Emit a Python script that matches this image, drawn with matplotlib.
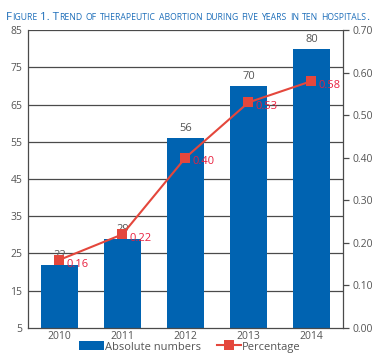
import matplotlib
matplotlib.use("Agg")
import matplotlib.pyplot as plt
import numpy as np

plt.rcParams['font.family'] = ['Open Sans', 'DejaVu Sans']

years = ["2010", "2011", "2012", "2013", "2014"]
absolute = [22, 29, 56, 70, 80]
percentage = [0.16, 0.22, 0.40, 0.53, 0.58]
left_ticks = [5, 15, 25, 35, 45, 55, 65, 75, 85]
right_ticks = [0.0, 0.1, 0.2, 0.3, 0.4, 0.5, 0.6, 0.7]

bar_color = '#0063b1'
line_color = '#e4473c'
label_red = '#e8203f'
text_gray = '#555555'
title_blue = '#1f6fba'

fig = plt.figure(figsize=(3.88, 3.62), dpi=100)
ax = fig.add_axes([0.072, 0.094, 0.812, 0.823])

x = np.arange(len(years))
bars = ax.bar(x, absolute, width=0.6, bottom=0, color=bar_color, zorder=2,
              label="Absolute numbers")
ax.set_ylim(5, 85)
ax.set_xlim(-0.5, len(years) - 0.5)
ax.set_yticks(left_ticks)
ax.set_xticks(x)
ax.set_xticklabels(years)
for y in left_ticks[1:]:
    ax.axhline(y, color='#4a4a4a', lw=0.9, zorder=1)
ax.tick_params(axis='y', length=0, labelsize=7.5, labelcolor=text_gray, pad=4)
ax.tick_params(axis='x', length=0, labelsize=7.5, labelcolor=text_gray, pad=2)
for s in ['top', 'right']:
    ax.spines[s].set_visible(False)
for s in ['left', 'bottom']:
    ax.spines[s].set_color('#4a4a4a')
    ax.spines[s].set_linewidth(0.9)

for xi, v in zip(x, absolute):
    ax.text(xi, v + 1.0, str(v), ha='center', va='bottom', fontsize=8,
            color=text_gray, zorder=3)

ax2 = ax.twinx()
ax2.set_ylim(0, 0.70)
ax2.set_yticks(right_ticks)
ax2.set_yticklabels(["%.2f" % t for t in right_ticks])
ax2.tick_params(axis='y', length=4, width=0.9, color='#4a4a4a', labelsize=7.5,
                labelcolor=text_gray, pad=3)
for s in ['top', 'left', 'bottom']:
    ax2.spines[s].set_visible(False)
ax2.spines['right'].set_color('#4a4a4a')
ax2.spines['right'].set_linewidth(0.9)
line, = ax2.plot(x, percentage, color=line_color, lw=1.5, marker='s',
                 markersize=6.5, markeredgewidth=0, label="Percentage", zorder=4)
for xi, p in zip(x, percentage):
    ax2.annotate("%.2f" % p, (xi, p), xytext=(5, -3), textcoords='offset points',
                 ha='left', va='center', fontsize=8, color=label_red)

fig.legend([bars, line], ["Absolute numbers", "Percentage"], loc='center',
           bbox_to_anchor=(0.49, 0.042), ncol=2, frameon=False, fontsize=8,
           handlelength=2.2, handleheight=0.9, handletextpad=0.1,
           columnspacing=1.4, labelcolor=text_gray, borderpad=0.1)


def small_caps(fig, x0, y0, text, big, small, color, width, family):
    renderer = fig.canvas.get_renderer()
    runs = []
    for ch in text:
        is_small = ch.islower()
        if runs and runs[-1][1] == is_small:
            runs[-1][0] += ch
        else:
            runs.append([ch, is_small])
    # first pass: measure total width, then scale sizes to fit
    total = 0
    for chunk, is_small in runs:
        t = fig.text(0, 0, chunk.upper() if is_small else chunk,
                     fontsize=small if is_small else big, family=family)
        total += t.get_window_extent(renderer).width / fig.bbox.width
        t.remove()
    k = width / total
    xpos = x0
    for chunk, is_small in runs:
        t = fig.text(xpos, y0, chunk.upper() if is_small else chunk,
                     fontsize=(small if is_small else big) * k, color=color,
                     ha='left', va='baseline', family=family)
        xpos += t.get_window_extent(renderer).width / fig.bbox.width


small_caps(fig, 0.016, 0.946,
           "Figure 1. Trend of therapeutic abortion during five years in ten hospitals.",
           9.5, 7.2, title_blue, 0.94, ['Liberation Sans Narrow', 'Open Sans'])

fig.savefig("out.png", dpi=100)
